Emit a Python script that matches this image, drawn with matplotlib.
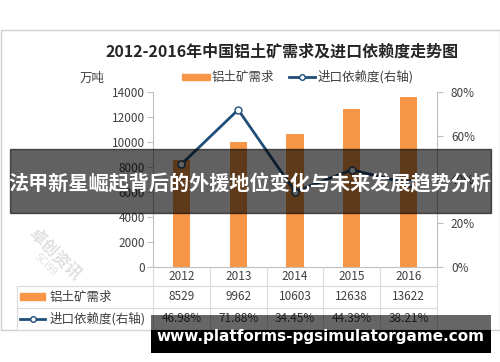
import matplotlib
matplotlib.use('Agg')
import matplotlib.pyplot as plt
from matplotlib.patches import Rectangle
from matplotlib.lines import Line2D

plt.rcParams['font.family'] = ['Noto Sans CJK SC', 'DejaVu Sans']

years = ['2012', '2013', '2014', '2015', '2016']
demand = [8529, 9962, 10603, 12638, 13622]
dependence = [46.98, 71.88, 34.45, 44.39, 38.21]
left_ticks = [0, 2000, 4000, 6000, 8000, 10000, 12000, 14000]
right_ticks = [0, 20, 40, 60, 80]

title = '2012-2016年中国铝土矿需求及进口依赖度走势图'
bar_name = '铝土矿需求'
line_name = '进口依赖度(右轴)'
banner = '法甲新星崛起背后的外援地位变化与未来发展趋势分析'
site = 'www.platforms-pgsimulatorgame.com'

orange = '#F79646'
navy = '#1F4E79'
grey = '#BFBFBF'
W, H = 500, 362

fig = plt.figure(figsize=(5, 3.62), dpi=100)

# pixel-space overlay for frame, table, legend, banners
bg = fig.add_axes([0, 0, 1, 1])
bg.set_xlim(0, W)
bg.set_ylim(H, 0)
bg.axis('off')
bg.add_patch(Rectangle((0.5, 30), 499, 300, fill=False, ec='#D0D0D0', lw=1))

# main plot area
x0, x1, ytop, ybot = 153, 437, 92, 267
ax = fig.add_axes([x0 / W, (H - ybot) / H, (x1 - x0) / W, (ybot - ytop) / H])
xs = list(range(len(years)))
ax.bar(xs, demand, width=0.3, color=orange, zorder=2)
ax.set_xlim(-0.5, len(years) - 0.5)
ax.set_ylim(0, 14000)
ax.set_yticks(left_ticks)
ax.set_yticklabels([str(v) for v in left_ticks], fontsize=8.5, color='#404040')
ax.set_xticks([])
for s in ['top', 'right']:
    ax.spines[s].set_visible(False)
ax.spines['left'].set_color(grey)
ax.spines['bottom'].set_color(grey)
ax.tick_params(axis='y', length=4, color=grey, pad=2)
ax.patch.set_alpha(0)

ax2 = ax.twinx()
ax2.plot(xs, dependence, color=navy, lw=2, marker='o', ms=5,
         mfc='white', mec=navy, mew=1, zorder=3)
ax2.set_ylim(0, 80)
ax2.set_yticks(right_ticks)
ax2.set_yticklabels([f'{v}%' for v in right_ticks], fontsize=8.5, color='#404040')
for s in ['top', 'left', 'bottom']:
    ax2.spines[s].set_visible(False)
ax2.spines['right'].set_color(grey)
ax2.tick_params(axis='y', length=4, color=grey, pad=6)

# title, unit and legend
bg.text(282, 52, title, ha='center', va='center', fontsize=11.5,
        fontweight='bold', color='#262626')
bg.text(92, 78, '万吨', ha='center', va='center', fontsize=9, color='#404040')
bg.add_patch(Rectangle((182, 74), 28, 6, color=orange))
bg.text(212, 77, bar_name, ha='left', va='center', fontsize=9, color='#404040')
bg.add_line(Line2D([289, 315], [77, 77], color=navy, lw=2))
bg.plot([302], [77], marker='o', ms=4, mfc='white', mec=navy, mew=1)
bg.text(318, 77, line_name, ha='left', va='center', fontsize=9, color='#404040')

# data table
col_w = (x1 - x0) / len(years)
row_y = [267, 286, 308, 330]
tc = '#DADADA'
for i in range(len(years) + 1):
    bg.add_line(Line2D([x0 + i * col_w] * 2, [row_y[0], row_y[3]], color=tc, lw=0.8))
bg.add_line(Line2D([17, 17], [row_y[1], row_y[3]], color=tc, lw=0.8))
for y in row_y[1:]:
    bg.add_line(Line2D([17, x1], [y, y], color=tc, lw=0.8))
for i, yr in enumerate(years):
    cx = x0 + (i + 0.5) * col_w
    bg.text(cx, 277, yr, ha='center', va='center', fontsize=8.5, color='#404040')
    bg.text(cx, 297, str(demand[i]), ha='center', va='center', fontsize=8.5, color='#404040')
    bg.text(cx, 319, f'{dependence[i]:.2f}%', ha='center', va='center', fontsize=8.5, color='#404040')
bg.add_patch(Rectangle((20, 293), 25, 7, color=orange))
bg.text(50, 297, bar_name, ha='left', va='center', fontsize=9, color='#404040')
bg.add_line(Line2D([20, 45], [319, 319], color=navy, lw=2))
bg.plot([33], [319], marker='o', ms=4, mfc='white', mec=navy, mew=1)
bg.text(50, 319, line_name, ha='left', va='center', fontsize=9, color='#404040')

# faint watermark
bg.text(55, 255, '卓创资讯', rotation=-45, ha='center', va='center',
        fontsize=12, fontweight='bold', color='#E0E0E0', zorder=0)
bg.text(45, 265, 'SCI99', rotation=-45, ha='center', va='center',
        fontsize=7.5, color='#E0E0E0', zorder=0)

# overlays
bg.add_patch(Rectangle((10, 149), 481, 64, color='black', alpha=0.62, zorder=10))
bg.text(250, 184, banner, ha='center', va='center', fontsize=14.5,
        fontweight='bold', color='white', zorder=11)
bg.add_patch(Rectangle((151, 315), 340, 38, color='black', alpha=0.6, zorder=10, lw=0))
bg.add_patch(Rectangle((151, 330), 340, 23, color='black', zorder=10, lw=0))
bg.text(320, 337, site, ha='center', va='center', fontsize=11,
        fontweight='bold', color='white', family='DejaVu Sans', zorder=11)

# bring overlay axes above plot
bg.set_zorder(5)
bg.patch.set_alpha(0)

fig.savefig('out.png', dpi=100)
